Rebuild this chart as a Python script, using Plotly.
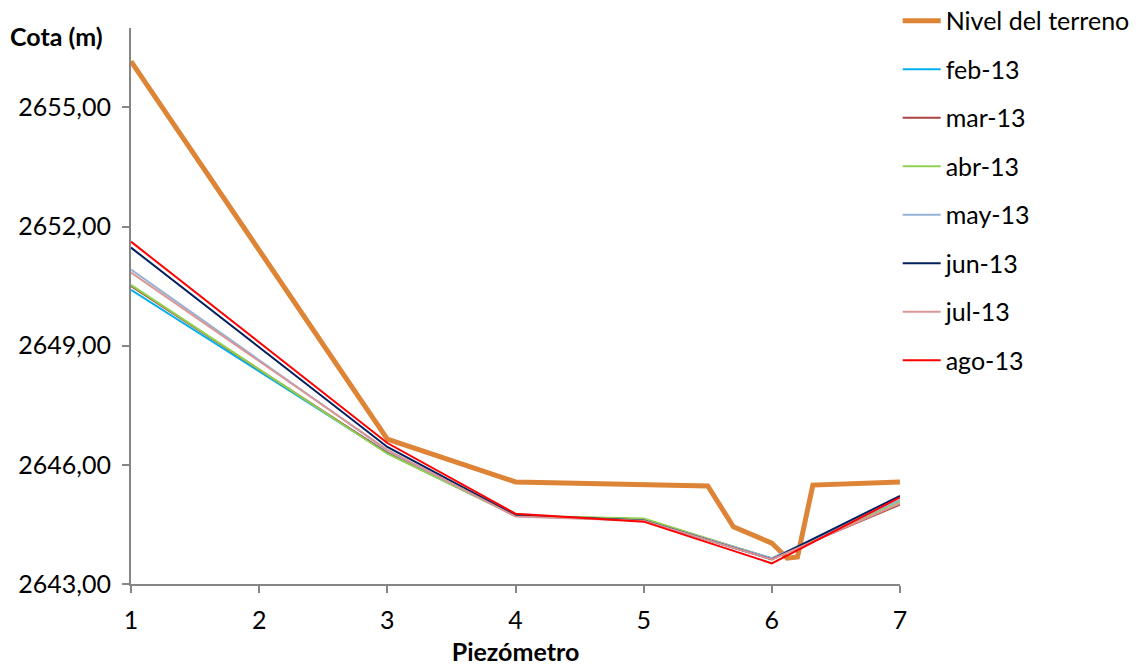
import plotly.graph_objects as go

# Terrain profile
terrain_x = [1, 3, 4, 5, 5.5, 5.7, 6.0, 6.12, 6.2, 6.32, 7]
terrain_y = [2656.16, 2646.65, 2645.57, 2645.52, 2645.47, 2644.44, 2644.03, 2643.65, 2643.68, 2645.49, 2645.57]

piezo_x = [1, 3, 4, 5, 6, 7]
series_names = ["feb-13", "mar-13", "abr-13", "may-13", "jun-13", "jul-13", "ago-13"]
feb = [2650.41, 2646.30, 2644.72, 2644.62, 2643.63, 2645.10]
mar = [2650.50, 2646.30, 2644.72, 2644.63, 2643.64, 2645.00]
abr = [2650.53, 2646.28, 2644.72, 2644.65, 2643.64, 2645.08]
may = [2650.92, 2646.36, 2644.71, 2644.60, 2643.65, 2645.12]
jun = [2651.47, 2646.45, 2644.73, 2644.60, 2643.62, 2645.22]
jul = [2650.84, 2646.38, 2644.70, 2644.59, 2643.62, 2645.03]
ago = [2651.62, 2646.55, 2644.77, 2644.57, 2643.52, 2645.18]
series_vals = [feb, mar, abr, may, jun, jul, ago]
series_colors = ["#00B0F0", "#A94442", "#92D050", "#95B3D7", "#002060", "#DA9694", "#FF0000"]

y_ticks = [2643, 2646, 2649, 2652, 2655]
x_ticks = [1, 2, 3, 4, 5, 6, 7]

FONT = "Lato"
FS = 25

fig = go.Figure()
fig.add_trace(go.Scatter(x=terrain_x, y=terrain_y, mode="lines", name="Nivel del terreno",
                         line=dict(color="#DD8436", width=5), legendgroup="g0"))
for i, (n, v, c) in enumerate(zip(series_names, series_vals, series_colors)):
    fig.add_trace(go.Scatter(x=piezo_x, y=v, mode="lines", name=n,
                             line=dict(color=c, width=2), legendgroup=f"g{i+1}"))

fig.update_layout(
    width=1137, height=666,
    margin=dict(l=131, r=237, t=28, b=82, autoexpand=False),
    paper_bgcolor="white", plot_bgcolor="white",
    separators=",.",
    font=dict(family=FONT, size=FS, color="black"),
    showlegend=True,
    legend=dict(x=0.997, xanchor="left", y=1.054, yanchor="top",
                font=dict(family=FONT, size=FS, color="black"),
                tracegroupgap=13, itemwidth=38, maxheight=640,
                bgcolor="rgba(0,0,0,0)"),
    xaxis=dict(range=[1, 7], tickvals=x_ticks, showgrid=False, zeroline=False,
               showline=True, linecolor="#868686", linewidth=2,
               ticks="outside", tickcolor="#868686", ticklen=7, tickwidth=2,
               tickfont=dict(size=FS), ticklabelstandoff=6, automargin=False,
               title=dict(text="<b>Piezómetro</b>", font=dict(size=FS), standoff=17)),
    yaxis=dict(range=[2643, 2657], tickvals=y_ticks, tickformat=".2f", showgrid=False,
               zeroline=False, showline=True, linecolor="#868686", linewidth=2,
               ticks="outside", tickcolor="#868686", ticklen=7, tickwidth=2,
               tickfont=dict(size=FS), ticklabelstandoff=6, automargin=False),
    annotations=[dict(text="<b>Cota (m)</b>", xref="paper", yref="paper",
                      x=-0.16, y=0.985, xanchor="left", yanchor="middle",
                      showarrow=False, font=dict(size=FS))],
)

fig.write_html("out.html")
